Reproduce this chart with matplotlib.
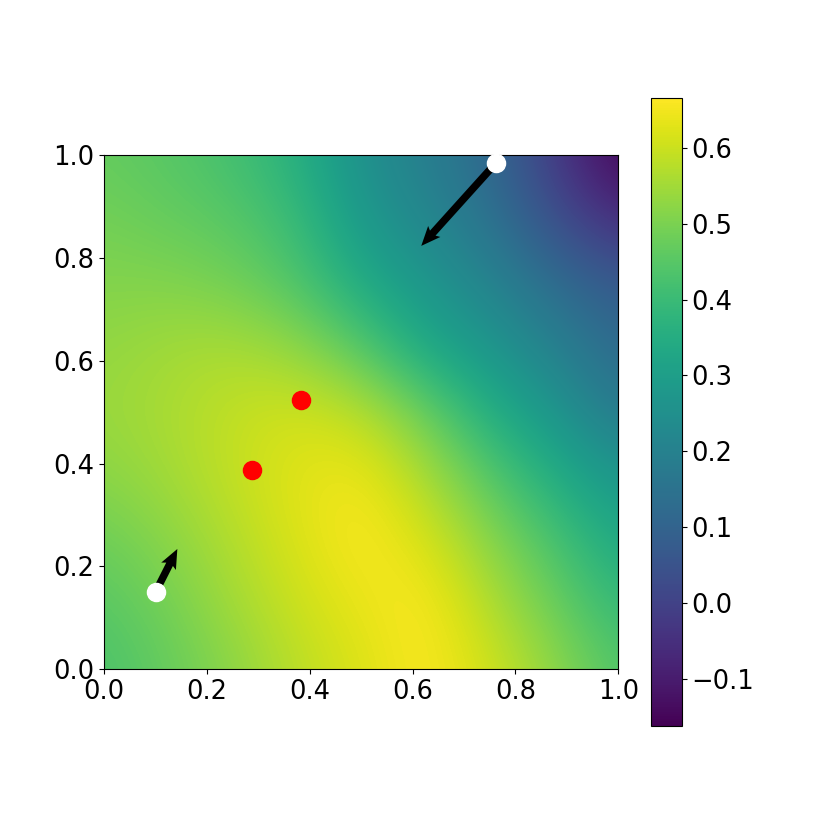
import numpy as np
import matplotlib
matplotlib.use("Agg")
import matplotlib.pyplot as plt

# Field values on a 9x9 grid, rows from y=1.0 (top) to y=0.0,
# columns from x=0.0 to x=1.0 in steps of 0.125
field = np.array([
    [0.47, 0.45, 0.42, 0.36, 0.25, 0.19, 0.12, -0.02, -0.16],
    [0.49, 0.47, 0.45, 0.40, 0.28, 0.22, 0.15, 0.04, -0.06],
    [0.51, 0.51, 0.49, 0.44, 0.34, 0.27, 0.21, 0.13, 0.07],
    [0.53, 0.55, 0.56, 0.53, 0.45, 0.33, 0.27, 0.20, 0.12],
    [0.54, 0.56, 0.59, 0.61, 0.58, 0.48, 0.35, 0.27, 0.17],
    [0.52, 0.55, 0.59, 0.63, 0.65, 0.56, 0.45, 0.35, 0.27],
    [0.48, 0.52, 0.57, 0.62, 0.665, 0.62, 0.52, 0.43, 0.33],
    [0.45, 0.49, 0.55, 0.60, 0.64, 0.665, 0.57, 0.48, 0.39],
    [0.43, 0.47, 0.52, 0.58, 0.62, 0.665, 0.61, 0.53, 0.44],
])
vmin, vmax = -0.163, 0.666

# start points and arrows
start_x = [0.101, 0.763]
start_y = [0.151, 0.985]
arrow_u = [0.042, -0.146]
arrow_v = [0.083, -0.162]

# red points
red_x = [0.2887, 0.3825]
red_y = [0.387, 0.524]

fs = 18.5
fig = plt.figure(figsize=(8.3, 8.3), dpi=100)
fig.subplots_adjust(left=0.125, right=0.9, bottom=0.125, top=0.882)
ax = fig.add_subplot(111)

n = field.shape[0]
h = 0.5 / (n - 1)
im = ax.imshow(field, cmap="viridis", origin="upper",
               extent=(-h, 1 + h, -h, 1 + h),
               interpolation="bicubic", vmin=vmin, vmax=vmax)
ax.set_xlim(0, 1)
ax.set_ylim(0, 1)

ax.quiver(start_x, start_y, arrow_u, arrow_v, angles="xy", scale_units="xy",
          scale=1, color="black", width=0.0145, headwidth=2.2,
          headlength=2.6, headaxislength=2.3, zorder=3)
ax.scatter(start_x, start_y, s=170, color="white", zorder=4, clip_on=False)
ax.scatter(red_x, red_y, s=170, color="red", zorder=4)

ax.tick_params(labelsize=fs)
cb = fig.colorbar(im, ax=ax)
cb.ax.tick_params(labelsize=fs)

fig.savefig("out.png", dpi=100)
